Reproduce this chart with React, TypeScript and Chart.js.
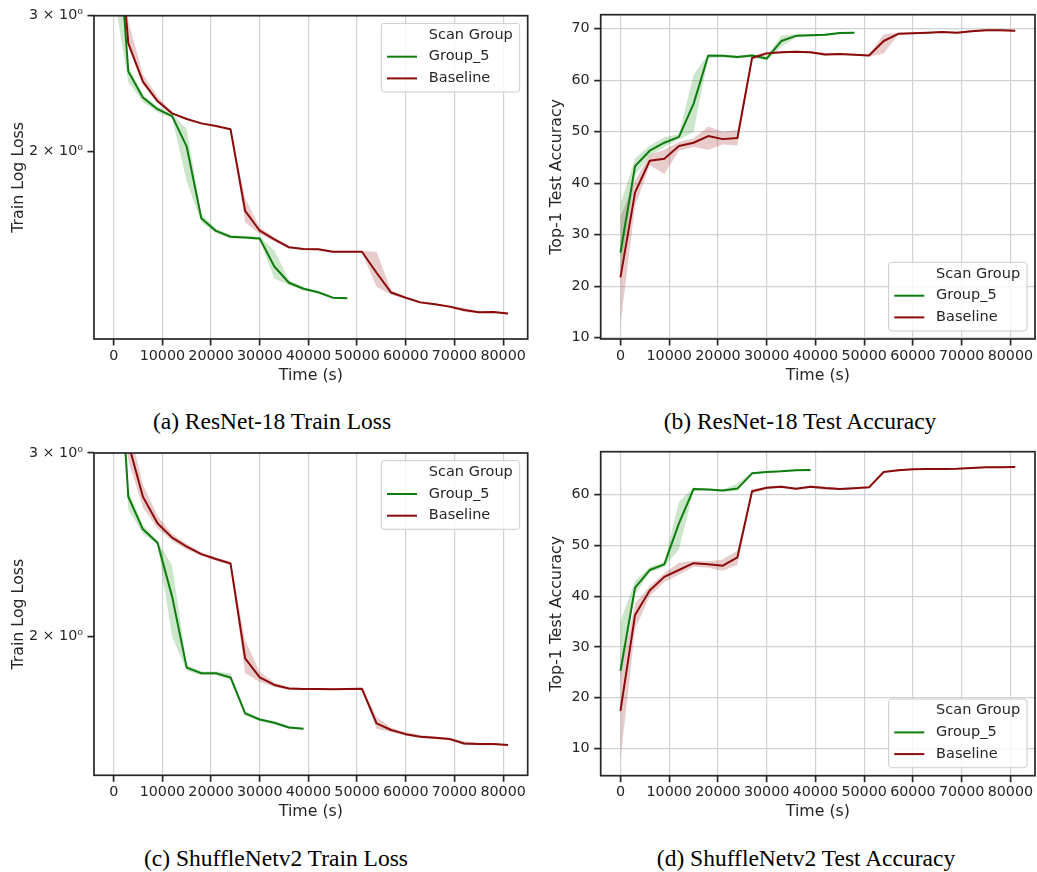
import React, { useEffect, useRef } from 'react';
import { Chart, registerables } from 'chart.js';

Chart.register(...registerables);

// ---------- data ----------
const TIME_BASELINE = [0, 3000, 6000, 9000, 12000, 15000, 18000, 21000, 24000, 27000, 30000, 33000, 36000, 39000, 42000, 45000, 48000, 51000, 54000, 57000, 60000, 63000, 66000, 69000, 72000, 75000, 78000, 81000];
const TIME_G5_RESNET = [0, 3000, 6000, 9000, 12000, 15000, 18000, 21000, 24000, 27000, 30000, 33000, 36000, 39000, 42000, 45000, 48000];
const TIME_G5_SHUFFLE = [0, 3000, 6000, 9000, 12000, 15000, 18000, 21000, 24000, 27000, 30000, 33000, 36000, 39000];

const X_TICKS = [0, 10000, 20000, 30000, 40000, 50000, 60000, 70000, 80000];
const X_TICK_LABELS = ['0', '10000', '20000', '30000', '40000', '50000', '60000', '70000', '80000'];
const LOSS_TICKS = [2, 3];
const LOSS_TICK_LABELS = ['2 × 10⁰', '3 × 10⁰'];
const ACC_TICKS_B = [10, 20, 30, 40, 50, 60, 70];
const ACC_TICKS_D = [10, 20, 30, 40, 50, 60];

const SERIES_NAMES = ['Group_5', 'Baseline'];
const LEGEND_TITLE = 'Scan Group';
const CAPTIONS = ['(a) ResNet-18 Train Loss', '(b) ResNet-18 Test Accuracy', '(c) ShuffleNetv2 Train Loss', '(d) ShuffleNetv2 Test Accuracy'];

// (a) ResNet-18 train loss
const G5_RESNET_LOSS = [4.6, 2.54, 2.35, 2.27, 2.224, 2.03, 1.64, 1.579, 1.552, 1.548, 1.544, 1.42, 1.353, 1.329, 1.315, 1.294, 1.292];
const G5_RESNET_LOSS_LO = [3.2, 2.46, 2.32, 2.25, 2.21, 1.83, 1.62, 1.568, 1.545, 1.542, 1.536, 1.37, 1.344, 1.322, 1.31, 1.29, 1.288];
const G5_RESNET_LOSS_HI = [4.8, 2.58, 2.37, 2.29, 2.24, 2.14, 1.66, 1.59, 1.56, 1.554, 1.552, 1.49, 1.364, 1.336, 1.32, 1.298, 1.296];
const BASE_RESNET_LOSS = [4.6, 2.762, 2.464, 2.326, 2.242, 2.205, 2.176, 2.159, 2.138, 1.676, 1.58, 1.54, 1.504, 1.496, 1.495, 1.484, 1.484, 1.484, 1.394, 1.314, 1.294, 1.276, 1.269, 1.26, 1.247, 1.239, 1.24, 1.234];
const BASE_RESNET_LOSS_LO = [3.6, 2.74, 2.44, 2.31, 2.235, 2.2, 2.171, 2.154, 2.133, 1.62, 1.565, 1.53, 1.499, 1.492, 1.491, 1.48, 1.48, 1.48, 1.337, 1.305, 1.29, 1.272, 1.265, 1.256, 1.24, 1.235, 1.236, 1.231];
const BASE_RESNET_LOSS_HI = [4.8, 2.95, 2.52, 2.36, 2.25, 2.21, 2.181, 2.164, 2.143, 1.74, 1.595, 1.55, 1.509, 1.5, 1.499, 1.488, 1.488, 1.488, 1.484, 1.322, 1.298, 1.28, 1.273, 1.264, 1.255, 1.243, 1.244, 1.237];

// (b) ResNet-18 test accuracy
const G5_RESNET_ACC = [26.5, 43.3, 46.3, 47.85, 49.0, 55.4, 64.75, 64.75, 64.5, 64.8, 64.2, 67.6, 68.6, 68.7, 68.8, 69.15, 69.2];
const G5_RESNET_ACC_LO = [23, 41.5, 45.3, 47.0, 48.5, 50.0, 64.3, 64.4, 64.2, 64.5, 63.8, 66.5, 68.3, 68.5, 68.6, 68.9, 69.0];
const G5_RESNET_ACC_HI = [36, 44.8, 47.3, 48.9, 49.5, 61.0, 65.1, 65.0, 64.8, 65.1, 64.6, 68.6, 68.9, 68.9, 69.0, 69.3, 69.4];
const BASE_RESNET_ACC = [21.7, 38.2, 44.35, 44.75, 47.2, 47.85, 49.15, 48.55, 48.75, 64.3, 65.2, 65.4, 65.5, 65.4, 65.0, 65.1, 64.95, 64.8, 67.6, 69.0, 69.1, 69.2, 69.35, 69.2, 69.5, 69.7, 69.7, 69.6];
const BASE_RESNET_ACC_LO = [12.5, 35.5, 43.5, 41.8, 46.3, 47.0, 46.5, 47.5, 47.3, 64.0, 64.9, 65.2, 65.3, 65.2, 64.7, 64.9, 64.8, 64.6, 65.2, 68.8, 68.9, 69.0, 69.2, 69.0, 69.3, 69.5, 69.5, 69.4];
const BASE_RESNET_ACC_HI = [33.5, 40.5, 45.5, 46.5, 48.0, 48.7, 51.0, 50.0, 50.3, 64.7, 65.5, 65.6, 65.7, 65.6, 65.3, 65.3, 65.1, 65.0, 68.9, 69.2, 69.3, 69.4, 69.5, 69.4, 69.7, 69.9, 69.9, 69.8];

// (c) ShuffleNetv2 train loss
const G5_SHUFFLE_LOSS = [4.6, 2.724, 2.535, 2.461, 2.185, 1.868, 1.845, 1.845, 1.828, 1.689, 1.666, 1.654, 1.637, 1.632];
const G5_SHUFFLE_LOSS_LO = [4.2, 2.65, 2.51, 2.45, 2.0, 1.855, 1.838, 1.838, 1.818, 1.68, 1.66, 1.648, 1.632, 1.628];
const G5_SHUFFLE_LOSS_HI = [5.0, 2.76, 2.56, 2.472, 2.34, 1.88, 1.852, 1.852, 1.845, 1.698, 1.672, 1.66, 1.642, 1.636];
const BASE_SHUFFLE_LOSS = [4.6, 3.065, 2.724, 2.569, 2.489, 2.44, 2.4, 2.374, 2.351, 1.907, 1.828, 1.798, 1.784, 1.782, 1.782, 1.781, 1.782, 1.783, 1.652, 1.628, 1.613, 1.604, 1.6, 1.596, 1.58, 1.578, 1.578, 1.575];
const BASE_SHUFFLE_LOSS_LO = [4.3, 2.95, 2.66, 2.54, 2.47, 2.425, 2.39, 2.365, 2.343, 1.845, 1.81, 1.79, 1.779, 1.778, 1.778, 1.778, 1.779, 1.779, 1.632, 1.62, 1.607, 1.599, 1.596, 1.592, 1.575, 1.574, 1.574, 1.572];
const BASE_SHUFFLE_LOSS_HI = [4.9, 3.2, 2.8, 2.61, 2.51, 2.455, 2.41, 2.383, 2.36, 1.985, 1.85, 1.808, 1.79, 1.786, 1.786, 1.785, 1.786, 1.787, 1.675, 1.636, 1.62, 1.61, 1.605, 1.6, 1.588, 1.582, 1.582, 1.578];

// (d) ShuffleNetv2 test accuracy
const G5_SHUFFLE_ACC = [25.3, 41.67, 45.15, 46.27, 54.35, 61.1, 61.0, 60.8, 61.2, 64.2, 64.47, 64.6, 64.8, 64.86];
const G5_SHUFFLE_ACC_LO = [23.5, 40.3, 44.6, 45.8, 49.2, 60.7, 60.8, 60.6, 60.7, 64.0, 64.3, 64.45, 64.65, 64.7];
const G5_SHUFFLE_ACC_HI = [35.0, 43.0, 45.7, 46.8, 58.6, 61.4, 61.2, 61.0, 62.2, 64.4, 64.6, 64.75, 64.95, 65.0];
const BASE_SHUFFLE_ACC = [17.4, 36.3, 41.1, 43.8, 45.15, 46.5, 46.3, 46.0, 47.65, 60.66, 61.38, 61.58, 61.18, 61.58, 61.3, 61.1, 61.25, 61.45, 64.47, 64.8, 65.0, 65.06, 65.06, 65.1, 65.25, 65.4, 65.4, 65.45];
const BASE_SHUFFLE_ACC_LO = [7.7, 33.5, 40.0, 42.8, 44.2, 45.8, 45.6, 45.0, 46.2, 60.2, 61.1, 61.3, 60.9, 61.3, 60.9, 60.9, 61.05, 61.25, 64.3, 64.6, 64.85, 64.9, 64.9, 64.95, 65.1, 65.25, 65.25, 65.3];
const BASE_SHUFFLE_ACC_HI = [25.0, 38.5, 42.0, 44.5, 46.6, 47.0, 46.9, 47.2, 49.0, 61.0, 61.6, 61.8, 61.4, 61.8, 61.6, 61.3, 61.45, 61.65, 64.6, 65.0, 65.15, 65.2, 65.2, 65.25, 65.4, 65.55, 65.55, 65.6];

// ---------- styles ----------
const GREEN = '#0e7c0e';
const RED = '#8b0a0a';
const GREEN_BAND = 'rgba(0,128,0,0.2)';
const RED_BAND = 'rgba(139,0,0,0.2)';
const INK = '#262626';
const GRID = '#d2d2d2';
const FONT = '"DejaVu Sans", sans-serif';
const TICK_SIZE = 14.3;
const TITLE_SIZE = 15.8;
const X_MIN = -4050;
const X_MAX = 85050;

type Series = { name: string; color: string; band: string; t: number[]; mean: number[]; lo: number[]; hi: number[] };
type PanelCfg = {
  canvas: { left: number; top: number; width: number; height: number };
  area: { left: number; right: number; top: number; bottom: number };
  yType: 'logarithmic' | 'linear';
  yMin: number; yMax: number;
  yTicks: number[]; yTickLabels: string[];
  yGrid: boolean;
  yTitle: string; yTitleX: number; xTitleY: number;
  legendCorner: 'tr' | 'br';
  series: Series[];
};

const mk = (t: number[], mean: number[], lo: number[], hi: number[], k: number): Series => ({
  name: SERIES_NAMES[k], color: k === 0 ? GREEN : RED, band: k === 0 ? GREEN_BAND : RED_BAND, t, mean, lo, hi,
});

const PANELS: PanelCfg[] = [
  {
    canvas: { left: 0, top: 0, width: 530, height: 400 },
    area: { left: 94, right: 527.7, top: 15.7, bottom: 339 },
    yType: 'logarithmic', yMin: 1.144, yMax: 3,
    yTicks: LOSS_TICKS, yTickLabels: LOSS_TICK_LABELS, yGrid: false,
    yTitle: 'Train Log Loss', yTitleX: 18.6, xTitleY: 376,
    legendCorner: 'tr',
    series: [
      mk(TIME_G5_RESNET, G5_RESNET_LOSS, G5_RESNET_LOSS_LO, G5_RESNET_LOSS_HI, 0),
      mk(TIME_BASELINE, BASE_RESNET_LOSS, BASE_RESNET_LOSS_LO, BASE_RESNET_LOSS_HI, 1),
    ],
  },
  {
    canvas: { left: 530, top: 0, width: 507, height: 400 },
    area: { left: 600.7, right: 1035, top: 14.7, bottom: 339 },
    yType: 'linear', yMin: 9.74, yMax: 72.71,
    yTicks: ACC_TICKS_B, yTickLabels: ACC_TICKS_B.map(String), yGrid: true,
    yTitle: 'Top-1 Test Accuracy', yTitleX: 557.3, xTitleY: 376,
    legendCorner: 'br',
    series: [
      mk(TIME_G5_RESNET, G5_RESNET_ACC, G5_RESNET_ACC_LO, G5_RESNET_ACC_HI, 0),
      mk(TIME_BASELINE, BASE_RESNET_ACC, BASE_RESNET_ACC_LO, BASE_RESNET_ACC_HI, 1),
    ],
  },
  {
    canvas: { left: 0, top: 437, width: 530, height: 400 },
    area: { left: 94, right: 527.7, top: 453, bottom: 775.3 },
    yType: 'logarithmic', yMin: 1.473, yMax: 3,
    yTicks: LOSS_TICKS, yTickLabels: LOSS_TICK_LABELS, yGrid: false,
    yTitle: 'Train Log Loss', yTitleX: 18.6, xTitleY: 812.3,
    legendCorner: 'tr',
    series: [
      mk(TIME_G5_SHUFFLE, G5_SHUFFLE_LOSS, G5_SHUFFLE_LOSS_LO, G5_SHUFFLE_LOSS_HI, 0),
      mk(TIME_BASELINE, BASE_SHUFFLE_LOSS, BASE_SHUFFLE_LOSS_LO, BASE_SHUFFLE_LOSS_HI, 1),
    ],
  },
  {
    canvas: { left: 530, top: 437, width: 507, height: 400 },
    area: { left: 600.7, right: 1035, top: 451.7, bottom: 775.7 },
    yType: 'linear', yMin: 4.61, yMax: 68.47,
    yTicks: ACC_TICKS_D, yTickLabels: ACC_TICKS_D.map(String), yGrid: true,
    yTitle: 'Top-1 Test Accuracy', yTitleX: 557.3, xTitleY: 812.3,
    legendCorner: 'br',
    series: [
      mk(TIME_G5_SHUFFLE, G5_SHUFFLE_ACC, G5_SHUFFLE_ACC_LO, G5_SHUFFLE_ACC_HI, 0),
      mk(TIME_BASELINE, BASE_SHUFFLE_ACC, BASE_SHUFFLE_ACC_LO, BASE_SHUFFLE_ACC_HI, 1),
    ],
  },
];

const CAPTION_POS = [
  { cx: 272, cy: 420.5 },
  { cx: 800, cy: 420.5 },
  { cx: 276, cy: 857.5 },
  { cx: 806, cy: 857.5 },
];

function Panel({ cfg }: { cfg: PanelCfg }) {
  const ref = useRef<HTMLCanvasElement | null>(null);
  useEffect(() => {
    const c = cfg;
    const yAxisW = c.area.left - c.canvas.left;
    const padR = c.canvas.left + c.canvas.width - c.area.right;
    const padT = c.area.top - c.canvas.top;
    const xAxisH = c.canvas.top + c.canvas.height - c.area.bottom;
    const half = (TITLE_SIZE * 1.2) / 2;
    const yTitlePad = c.yTitleX - c.canvas.left - half;
    const xTitlePad = c.canvas.top + c.canvas.height - c.xTitleY - half;

    const datasets: any[] = [];
    c.series.forEach((s) => {
      datasets.push({
        label: s.name + ' lo', data: s.t.map((x, i) => ({ x, y: s.lo[i] })),
        borderColor: 'rgba(0,0,0,0)', borderWidth: 1, pointRadius: 0, fill: false, order: 5,
      });
      datasets.push({
        label: s.name + ' hi', data: s.t.map((x, i) => ({ x, y: s.hi[i] })),
        borderColor: 'rgba(0,0,0,0)', borderWidth: 1, pointRadius: 0, fill: '-1', backgroundColor: s.band, order: 5,
      });
    });
    c.series.forEach((s, k) => {
      datasets.push({
        label: s.name, data: s.t.map((x, i) => ({ x, y: s.mean[i] })),
        borderColor: s.color, borderWidth: 2, pointRadius: 0, fill: false, tension: 0,
        borderJoinStyle: 'round', order: 2 - k,
      });
    });

    const framePlugin = {
      id: 'frame',
      afterDatasetsDraw(chart: any) {
        const { ctx, chartArea: a } = chart;
        ctx.save();
        ctx.strokeStyle = INK;
        ctx.lineWidth = 1.7;
        ctx.strokeRect(a.left, a.top, a.right - a.left, a.bottom - a.top);
        ctx.restore();
      },
    };

    const legendPlugin = {
      id: 'customLegend',
      afterDraw(chart: any) {
        const { ctx, chartArea: a } = chart;
        const bw = 138.4, bh = 68.7;
        const bx = a.right - 8 - bw;
        const by = c.legendCorner === 'tr' ? a.top + 7.6 : a.bottom - 8 - bh;
        ctx.save();
        ctx.beginPath();
        const r = 3;
        ctx.moveTo(bx + r, by);
        ctx.lineTo(bx + bw - r, by);
        ctx.arcTo(bx + bw, by, bx + bw, by + r, r);
        ctx.lineTo(bx + bw, by + bh - r);
        ctx.arcTo(bx + bw, by + bh, bx + bw - r, by + bh, r);
        ctx.lineTo(bx + r, by + bh);
        ctx.arcTo(bx, by + bh, bx, by + bh - r, r);
        ctx.lineTo(bx, by + r);
        ctx.arcTo(bx, by, bx + r, by, r);
        ctx.closePath();
        ctx.fillStyle = 'rgba(255,255,255,0.8)';
        ctx.fill();
        ctx.strokeStyle = '#cccccc';
        ctx.lineWidth = 1;
        ctx.stroke();
        const rows = [{ label: LEGEND_TITLE, color: '' }, ...c.series.map((s) => ({ label: s.name, color: s.color }))];
        ctx.font = `${TICK_SIZE + 0.2}px ${FONT}`;
        ctx.textBaseline = 'middle';
        ctx.textAlign = 'left';
        rows.forEach((row, i) => {
          const y = by + 11.7 + i * 21.7;
          if (row.color) {
            ctx.strokeStyle = row.color;
            ctx.lineWidth = 2;
            ctx.beginPath();
            ctx.moveTo(bx + 5.7, y);
            ctx.lineTo(bx + 35.7, y);
            ctx.stroke();
          }
          ctx.fillStyle = INK;
          ctx.fillText(row.label, bx + 47.5, y);
        });
        ctx.restore();
      },
    };

    const tickFont = { family: FONT, size: TICK_SIZE };
    const titleFont = { family: FONT, size: TITLE_SIZE };

    const chart = new Chart(ref.current as HTMLCanvasElement, {
      type: 'line',
      data: { datasets },
      options: {
        responsive: false,
        animation: false,
        devicePixelRatio: 1,
        events: [],
        layout: { padding: { left: 0, right: padR, top: padT, bottom: 0 } },
        plugins: { legend: { display: false }, tooltip: { enabled: false }, filler: { propagate: false } },
        scales: {
          x: {
            type: 'linear', min: X_MIN, max: X_MAX,
            afterBuildTicks: (s: any) => { s.ticks = X_TICKS.map((v) => ({ value: v })); },
            afterFit: (s: any) => { s.height = xAxisH; },
            ticks: {
              callback: (v: any) => X_TICK_LABELS[X_TICKS.indexOf(Number(v))] ?? '',
              font: tickFont, color: INK, padding: 2, maxRotation: 0, minRotation: 0, autoSkip: false,
            },
            grid: { display: true, drawOnChartArea: true, color: GRID, lineWidth: 1.2, drawTicks: true, tickLength: 6.5, tickColor: INK, tickWidth: 1.7 },
            border: { display: false },
            title: { display: true, text: 'Time (s)', font: titleFont, color: INK, padding: { top: 0, bottom: xTitlePad } },
          },
          y: {
            type: c.yType, min: c.yMin, max: c.yMax,
            afterBuildTicks: (s: any) => { s.ticks = c.yTicks.map((v) => ({ value: v })); },
            afterFit: (s: any) => { s.width = yAxisW; },
            ticks: {
              callback: (v: any) => c.yTickLabels[c.yTicks.indexOf(Number(v))] ?? '',
              font: tickFont, color: INK, padding: 4.5, autoSkip: false,
            },
            grid: { display: true, drawOnChartArea: c.yGrid, color: GRID, lineWidth: 1.2, drawTicks: true, tickLength: 6.5, tickColor: INK, tickWidth: 1.7 },
            border: { display: false },
            title: { display: true, text: c.yTitle, font: titleFont, color: INK, padding: { top: yTitlePad, bottom: 0 } },
          },
        },
      } as any,
      plugins: [framePlugin, legendPlugin],
    });
    return () => chart.destroy();
  }, [cfg]);
  return (
    <canvas
      ref={ref}
      width={cfg.canvas.width}
      height={cfg.canvas.height}
      style={{ position: 'absolute', left: cfg.canvas.left, top: cfg.canvas.top, width: cfg.canvas.width, height: cfg.canvas.height }}
    />
  );
}

export default function App() {
  return (
    <div style={{ position: 'absolute', left: 0, top: 0, width: 1037, height: 872, background: '#ffffff', overflow: 'hidden' }}>
      {PANELS.map((p, i) => (
        <Panel key={i} cfg={p} />
      ))}
      {CAPTIONS.map((text, i) => (
        <div
          key={text}
          style={{
            position: 'absolute', left: CAPTION_POS[i].cx, top: CAPTION_POS[i].cy - 14,
            transform: 'translateX(-50%)', whiteSpace: 'nowrap',
            fontFamily: '"Liberation Serif", "Times New Roman", serif', fontSize: 23.5, lineHeight: '28px', color: '#000',
          }}
        >
          {text}
        </div>
      ))}
    </div>
  );
}
